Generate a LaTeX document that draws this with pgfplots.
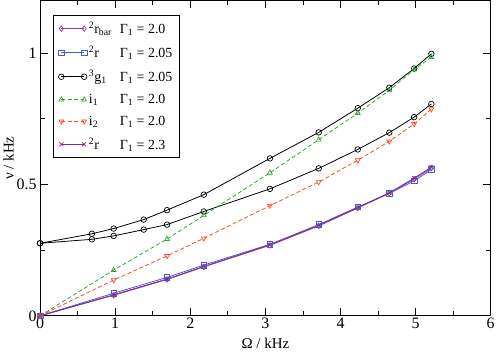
\documentclass[border=0pt]{standalone}
\usepackage{pgfplots}
\pgfplotsset{compat=1.18}
\usepackage{fontspec}
\setmainfont{Liberation Serif}

\definecolor{cbar}{HTML}{993C80}
\definecolor{cblue}{HTML}{3F5FE0}
\definecolor{cgreen}{HTML}{2EA82E}
\definecolor{cred}{HTML}{FF4A20}
\definecolor{cpurp}{HTML}{8A2A8A}

\newcommand{\nm}[1]{\makebox[31pt][l]{#1}}

\begin{document}
\begin{tikzpicture}
\begin{axis}[
  scale only axis,
  width=453pt, height=317pt,
  xmin=0, xmax=6, ymin=0, ymax=1.2,
  xtick={0,1,...,6}, minor xtick={0.5,1.5,...,5.5},
  ytick={0,0.5,1}, minor ytick={0.25,0.75},
  yticklabels={0,0.5,1},
  tick align=inside,
  major tick length=8pt, minor tick length=4.5pt,
  tick style={black, line width=0.8pt},
  axis line style={black, line width=0.9pt},
  /pgf/number format/assume math mode=true,
  ticklabel style={font=\fontsize{16}{18}\selectfont},
  xticklabel style={yshift=1pt},
  label style={font=\fontsize{15}{17}\selectfont},
  xlabel={Ω / kHz}, ylabel={ν / kHz},
  xlabel style={yshift=-2pt},
  ylabel style={yshift=-4pt},
  legend style={at={(0.029,0.955)}, anchor=north west, draw=black, line width=0.8pt,
    font=\fontsize{14}{16}\selectfont, row sep=7pt, inner xsep=5pt, inner ysep=5pt},
  legend cell align=left,
  legend image code/.code={\draw[mark repeat=1,mark phase=1,#1] plot coordinates {(0pt,0pt) (23pt,0pt)};},
  every axis plot/.append style={line width=0.8pt, mark size=2.8pt, mark options={solid, line width=0.7pt}},
]
\addplot[cbar, mark=diamond] coordinates {
(0,0) (0.98,0.078) (1.69,0.138) (2.18,0.186) (3.06,0.268) (3.71,0.342) (4.23,0.410) (4.65,0.466) (4.98,0.520) (5.21,0.562)};
\addlegendentry{\nm{\textsuperscript{2}r\textsubscript{bar}}Γ\textsubscript{1} = 2.0}
\addplot[cblue, mark=square] coordinates {
(0,0) (0.98,0.086) (1.69,0.146) (2.18,0.193) (3.06,0.272) (3.71,0.347) (4.23,0.414) (4.65,0.466) (4.98,0.513) (5.21,0.557)};
\addlegendentry{\nm{\textsuperscript{2}r}Γ\textsubscript{1} = 2.05}
\addplot[black, mark=o] coordinates {
(0,0.276) (0.69,0.312) (0.98,0.332) (1.38,0.366) (1.69,0.402) (2.18,0.461) (3.06,0.599) (3.71,0.698) (4.23,0.790) (4.65,0.868) (4.98,0.941) (5.21,0.997)};
\addlegendentry{\nm{\textsuperscript{3}g\textsubscript{1}}Γ\textsubscript{1} = 2.05}
\addplot[black, mark=o, forget plot] coordinates {
(0,0.276) (0.69,0.291) (0.98,0.304) (1.38,0.328) (1.69,0.347) (2.18,0.397) (3.06,0.483) (3.71,0.561) (4.23,0.633) (4.65,0.697) (4.98,0.756) (5.21,0.806)};
\addplot[cgreen, dash pattern=on 4pt off 2.5pt, mark=triangle] coordinates {
(0,0) (0.98,0.174) (1.69,0.292) (2.18,0.382) (3.06,0.544) (3.71,0.670) (4.23,0.771) (4.65,0.858) (4.98,0.937) (5.21,0.984)};
\addlegendentry{\nm{i\textsubscript{1}}Γ\textsubscript{1} = 2.0}
\addplot[cred, dash pattern=on 4pt off 2.5pt, mark=triangle, mark options={solid, line width=0.7pt, rotate=180}] coordinates {
(0,0) (0.98,0.136) (1.69,0.228) (2.18,0.295) (3.06,0.419) (3.71,0.509) (4.23,0.592) (4.65,0.664) (4.98,0.730) (5.21,0.786)};
\addlegendentry{\nm{i\textsubscript{2}}Γ\textsubscript{1} = 2.0}
\addplot[cpurp, mark=x] coordinates {
(0,0) (0.98,0.080) (1.69,0.140) (2.18,0.188) (3.06,0.270) (3.71,0.344) (4.23,0.412) (4.65,0.468) (4.98,0.524) (5.21,0.566)};
\addlegendentry{\nm{\textsuperscript{2}r}Γ\textsubscript{1} = 2.3}
\end{axis}
\end{tikzpicture}
\end{document}
